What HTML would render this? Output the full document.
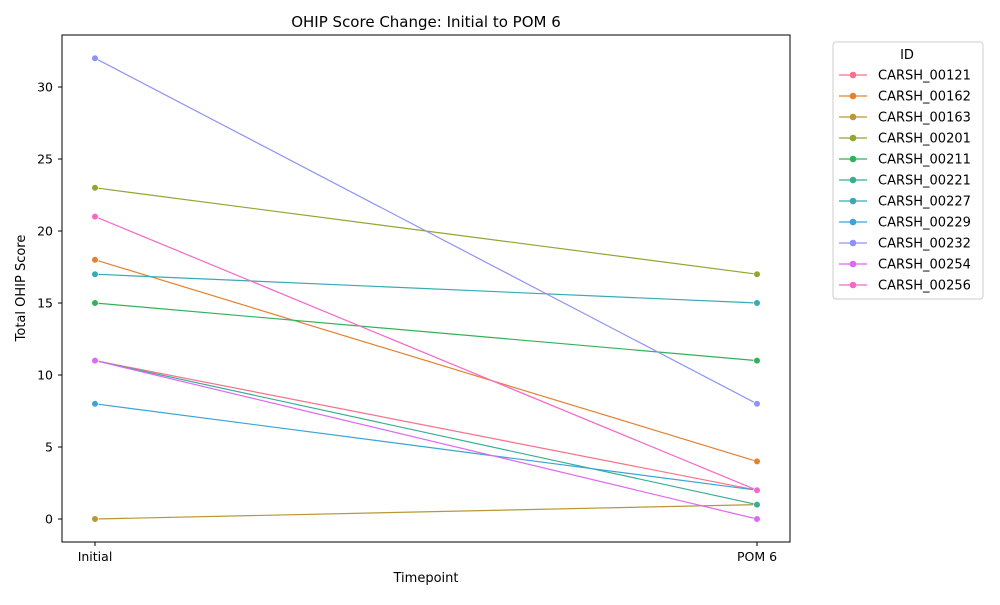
<!DOCTYPE html>
<html><head><meta charset="utf-8"><style>
body{margin:0;background:#fff;font-family:"Liberation Sans","DejaVu Sans",sans-serif;}
</style></head><body>
<svg id="chart" width="1000" height="600" xmlns="http://www.w3.org/2000/svg" font-family="DejaVu Sans, Liberation Sans, sans-serif">
<text x="426" y="27" text-anchor="middle" font-size="15">OHIP Score Change: Initial to POM 6</text>
<rect x="62" y="35" width="728" height="507" fill="none" stroke="#000" stroke-width="1"/>
<g id="axes"></g><g id="lines"></g>
<text x="426" y="582" text-anchor="middle" font-size="13">Timepoint</text>
<text transform="translate(25,288) rotate(-90)" text-anchor="middle" font-size="13">Total OHIP Score</text>
<g>
<rect x="833" y="42" width="150" height="257" rx="3" fill="#fff" stroke="#ccc"/>
<text x="907" y="59" text-anchor="middle" font-size="13">ID</text>
<g id="legend"></g></g>
</svg>
<script>
const categories=["Initial","POM 6"];
const ids=["CARSH_00121","CARSH_00162","CARSH_00163","CARSH_00201","CARSH_00211","CARSH_00221","CARSH_00227","CARSH_00229","CARSH_00232","CARSH_00254","CARSH_00256"];
const initialValues=[11,18,0,23,15,11,17,8,32,11,21];
const pom6Values=[2,4,1,17,11,1,15,2,8,0,2];
const yTicks=[0,5,10,15,20,25,30];
const colors=["#f77189","#e5802f","#b89833","#8fa631","#33b15a","#35ae93","#37abb4","#3ba3d5","#8d93f4","#de68f4","#f667c8"];
const NS="http://www.w3.org/2000/svg";
const xs=i=>95+i*662/(categories.length-1);
const ys=v=>519-v*14.4;
function mk(tag,at,parent){const e=document.createElementNS(NS,tag);for(const k in at)e.setAttribute(k,at[k]);parent.appendChild(e);return e;}
const axes=document.getElementById('axes');
yTicks.forEach(t=>{
 const l=mk('line',{x1:58,x2:62,y1:ys(t),y2:ys(t),stroke:'#000'},axes);
 
 
 const tx=mk('text',{x:53,y:ys(t)+4.5,'text-anchor':'end','font-size':12.5},axes);tx.textContent=t;
 
 
});
categories.forEach((c,i)=>{
 const l=mk('line',{x1:xs(i),x2:xs(i),y1:542,y2:546,stroke:'#000'},axes);
 
 
 const tx=mk('text',{x:xs(i),y:561,'text-anchor':'middle','font-size':12.5},axes);tx.textContent=c;
 
 
});
const lines=document.getElementById('lines'),leg=document.getElementById('legend');
ids.forEach((id,k)=>{
 const vals=[initialValues[k],pom6Values[k]];
 const g=mk('g',{},lines);
 
 
 mk('polyline',{points:vals.map((v,i)=>xs(i)+','+ys(v)).join(' '),fill:'none',stroke:colors[k],'stroke-width':1.2},g);
 vals.forEach((v,i)=>{const c=mk('circle',{cx:xs(i),cy:ys(v),r:3.3,fill:colors[k],stroke:'#fff','stroke-width':0.6},g);
  
  });
 const y=75+k*21;
 const e=mk('g',{},leg);
 
 
 mk('line',{x1:839,x2:867,y1:y,y2:y,stroke:colors[k],'stroke-width':1.2},e);
 mk('circle',{cx:853,cy:y,r:3.3,fill:colors[k]},e);
 const t=mk('text',{x:878,y:y+4.5,'font-size':13},e);t.textContent=id;
});
</script>
</body></html>
